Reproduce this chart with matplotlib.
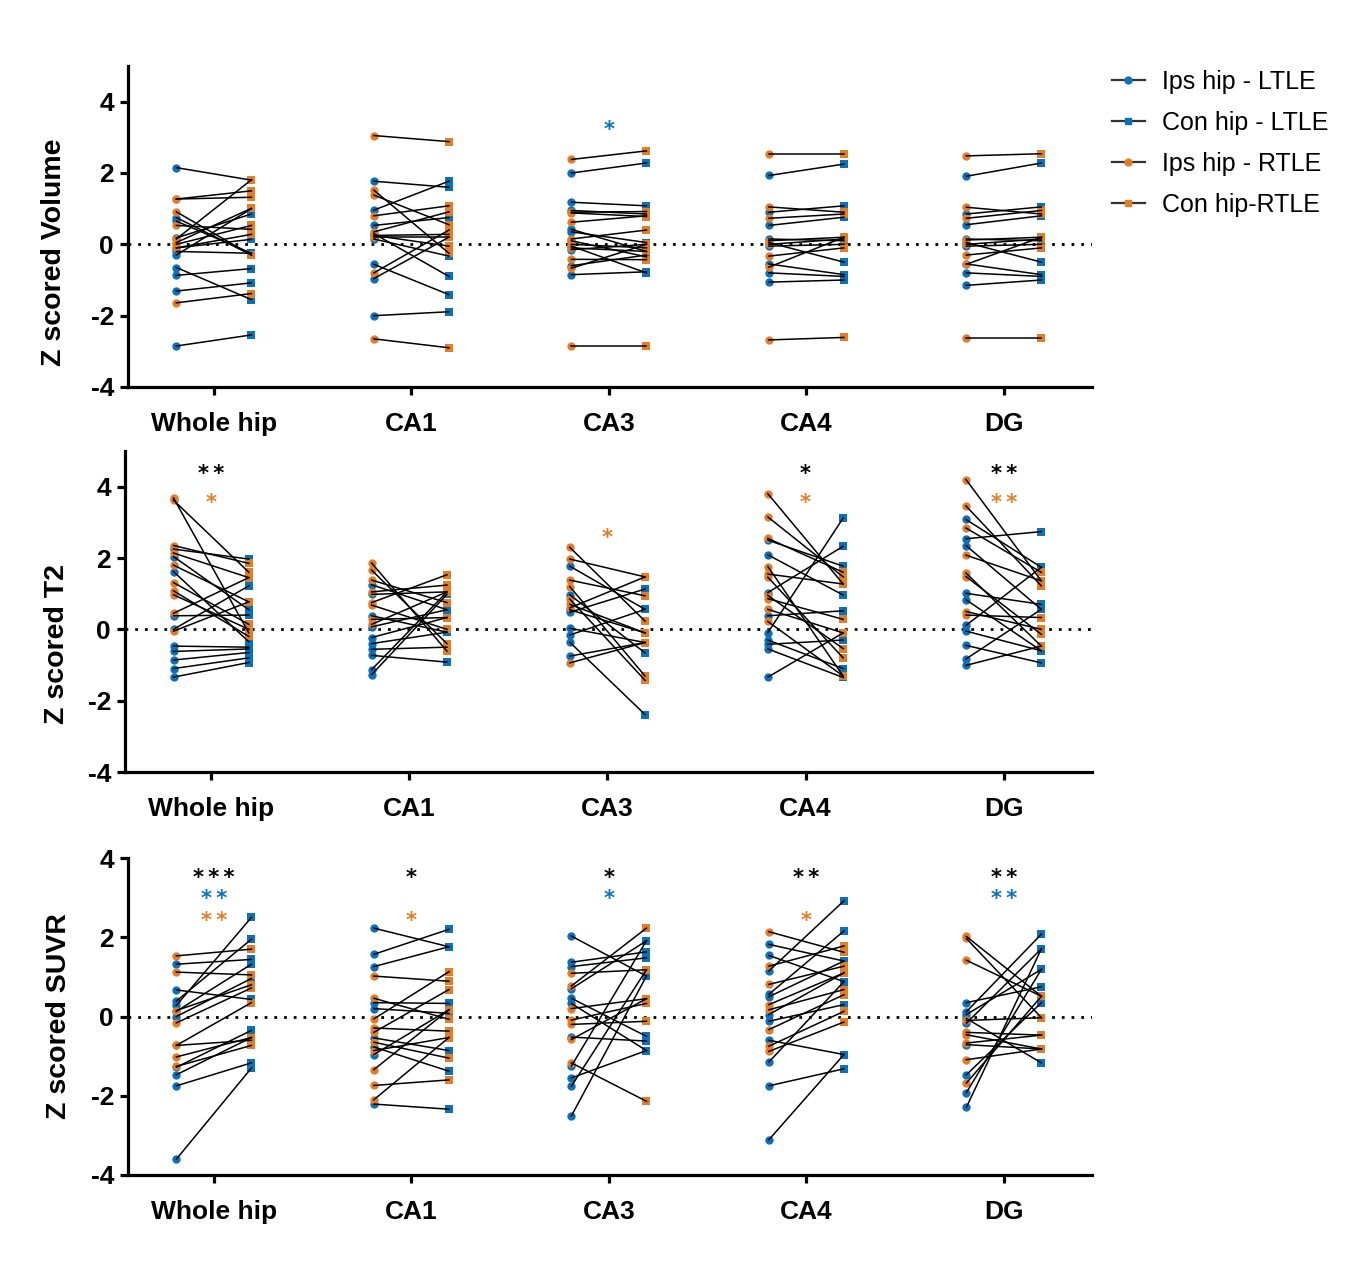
import matplotlib
matplotlib.use('Agg')
import matplotlib.pyplot as plt
from matplotlib.lines import Line2D
from matplotlib.transforms import offset_copy

plt.rcParams['font.family'] = ['Liberation Sans', 'DejaVu Sans']
plt.rcParams['axes.unicode_minus'] = False

BLUE = '#0a72bb'
ORANGE = '#e37e26'

regions = ['Whole hip', 'CA1', 'CA3', 'CA4', 'DG']

# ---- Z scored Volume ----
vol_ips_ltle = [
    [2.15, 0.75, 0.65, 0.18, -0.1, -0.2, -0.3, -0.65, -0.87, -1.31, -2.85],
    [1.77, 0.96, 0.53, 0.3, 0.25, 0.15, -0.56, -0.96, -2.0],
    [2.0, 1.18, 0.95, 0.42, 0.35, 0.1, -0.05, -0.15, -0.6, -0.85],
    [1.93, 0.9, 0.53, 0.15, 0.05, -0.05, -0.55, -0.8, -1.06],
    [1.91, 0.85, 0.55, 0.15, 0.05, -0.05, -0.55, -0.8, -1.15],
]
vol_con_ltle = [
    [1.8, -0.3, -0.25, 0.85, 0.14, -0.25, 1.0, -1.55, -0.68, -1.08, -2.54],
    [1.6, 1.77, 0.75, -0.9, 0.28, -0.33, -1.41, 0.2, -1.89],
    [2.28, 1.08, 0.85, -0.2, 0.05, -0.35, -0.8, 0.0, -0.3, -0.77],
    [2.25, 1.08, 0.76, 0.1, -0.5, 0.0, -0.85, -0.9, -1.0],
    [2.28, 1.05, 0.8, 0.1, -0.5, 0.0, -0.85, -0.9, -1.0],
]
vol_ips_rtle = [
    [1.27, 1.27, 0.91, 0.53, 0.15, 0.05, 0.0, -0.1, -1.64],
    [3.05, 1.52, 1.38, 0.8, 0.35, 0.2, 0.25, -0.8, -2.65],
    [2.38, 0.9, 0.88, 0.62, 0.15, 0.0, -0.1, -0.42, -0.67, -2.84],
    [2.52, 1.05, 0.73, 0.1, 0.0, -0.33, -0.64, -2.68],
    [2.48, 1.04, 0.73, 0.12, 0.0, -0.3, -0.56, -2.62],
]
vol_con_rtle = [
    [1.32, 1.5, -0.3, 0.42, 1.81, 1.01, 0.53, 0.28, -1.38],
    [2.88, -0.25, 0.55, 1.08, 0.91, 0.2, -0.05, 0.4, -2.9],
    [2.62, 0.92, 0.78, 0.8, 0.4, -0.1, -0.2, -0.43, 0.0, -2.84],
    [2.52, 0.9, 0.85, 0.2, 0.15, -0.1, 0.2, -2.61],
    [2.54, 0.85, 0.95, 0.2, 0.15, -0.1, 0.2, -2.62],
]

# ---- Z scored T2 ----
t2_ips_ltle = [
    [2.25, 2.04, 1.62, 0.38, 0.0, -0.47, -0.62, -0.86, -1.1, -1.34],
    [1.25, 0.98, 0.38, 0.07, -0.23, -0.4, -0.56, -0.73, -1.13, -1.27],
    [1.77, 0.97, 0.48, 0.03, -0.16, -0.36, -0.75, 0.55],
    [2.5, 2.09, 1.03, 0.38, -0.09, -0.3, -0.42, -0.55, -1.34],
    [3.08, 2.54, 2.35, 1.01, 0.83, 0.11, -0.05, -0.45, -0.83, -1.01],
]
t2_con_ltle = [
    [1.97, 0.55, -0.35, 0.4, 1.22, -0.5, -0.55, -0.65, -0.8, -0.93],
    [0.55, 1.05, -0.08, 0.55, 0.33, -0.08, -0.5, -0.92, 1.05, 0.98],
    [0.56, -0.66, 1.13, -0.37, 0.56, -2.39, -0.37, -0.1],
    [1.77, 0.96, 2.33, 0.52, 3.12, -1.1, -0.3, -1.35, -0.1],
    [1.74, 2.74, 0.56, 0.7, -0.6, 1.74, -0.6, -0.94, 0.56, -0.47],
]
t2_ips_rtle = [
    [3.68, 3.62, 2.35, 2.14, 1.8, 1.31, 1.08, 0.97, 0.45, -0.05],
    [1.86, 1.66, 1.38, 1.05, 0.75, 0.68, 0.28, 0.14],
    [2.3, 1.97, 1.38, 1.2, 0.85, 0.7, 0.6, -0.94],
    [3.8, 3.15, 2.55, 1.76, 1.55, 1.46, 0.95, 0.86, 0.56, 0.22],
    [4.2, 3.46, 2.84, 2.08, 1.58, 1.48, 0.5, 0.4],
]
t2_con_rtle = [
    [-0.1, 1.6, 1.85, 1.45, 0.77, 0.14, -0.2, 0.0, 1.45, 0.77],
    [-0.61, -0.4, 0.75, 1.24, 1.53, 0.0, 0.33, 1.05],
    [0.23, 1.47, 0.94, -1.31, -1.43, -0.1, 1.47, -0.37],
    [1.27, 1.47, 1.6, -1.31, 1.27, -0.8, -0.54, 0.28, -0.1, -1.31],
    [1.36, 1.22, 1.6, 1.36, -0.47, -0.14, 0.0, 0.33],
]

# ---- Z scored SUVR ----
suvr_ips_ltle = [
    [1.32, 0.67, 0.39, 0.28, 0.13, -1.28, -1.47, -1.75, -3.6, 0.0],
    [2.23, 1.57, 1.26, 0.35, 0.2, -0.54, -0.77, -0.96, -2.21],
    [2.03, 1.37, 1.26, 0.7, 0.46, 0.33, -0.52, -1.25, -1.55, -1.76, -2.51],
    [1.82, 1.54, 1.15, 0.56, 0.5, 0.05, -0.12, -0.6, -1.15, -1.75, -3.11],
    [0.35, 0.12, -0.17, -0.71, -1.47, -1.92, -2.29, 0.05, -0.05],
]
suvr_con_ltle = [
    [1.44, 0.43, 1.95, 2.5, 1.32, -0.35, -0.53, -1.17, -1.3, 0.96],
    [1.76, 2.2, 1.76, 0.33, 0.08, -0.86, -1.38, 0.17, -2.34],
    [1.02, 1.63, 1.48, 1.91, -0.5, -0.86, -0.62, 1.91, -0.86, 1.18, 1.02],
    [1.4, 0.88, 2.92, 2.16, 1.4, 1.1, 0.3, -0.96, 0.88, -1.32, -0.96],
    [0.75, 2.08, 1.71, -0.82, 0.35, 1.19, 1.71, 1.19, -1.17],
]
suvr_ips_rtle = [
    [1.53, 1.12, 0.15, -0.16, -0.73, -1.02, -1.26, -0.73],
    [1.02, 0.46, -0.06, -0.29, -0.4, -0.65, -0.86, -1.34, -1.74, -2.1],
    [1.09, 0.77, 0.2, -0.09, -0.2, -0.58, -1.17],
    [2.14, 1.27, 0.81, 0.3, 0.17, -0.33, -0.75, -0.88],
    [2.02, 1.97, 1.42, -0.1, -0.4, -0.46, -0.67, -1.09, -1.68],
]
suvr_con_rtle = [
    [1.7, 1.05, 0.8, 0.72, -0.6, -0.53, -0.73, 0.35],
    [0.89, -0.07, 1.13, -0.37, 0.68, -1.05, -0.53, 0.17, -1.6, -0.53],
    [1.18, 2.23, 0.45, 0.33, -0.12, 0.45, -2.14],
    [1.62, 1.78, 1.27, 1.1, 0.68, 0.55, 0.13, -0.14],
    [0.51, -0.03, 0.51, -0.03, -0.47, -0.82, -0.47, -0.82, 0.51],
]

# significance marks: (region index, z position, number of stars, colour)
vol_stars = [(2, 3.38, 1, BLUE)]
t2_stars = [(0, 4.54, 2, 'black'), (0, 3.72, 1, ORANGE), (2, 2.73, 1, ORANGE),
            (3, 4.54, 1, 'black'), (3, 3.72, 1, ORANGE),
            (4, 4.54, 2, 'black'), (4, 3.72, 2, ORANGE)]
suvr_stars = [(0, 3.66, 3, 'black'), (0, 3.13, 2, BLUE), (0, 2.58, 2, ORANGE),
              (1, 3.66, 1, 'black'), (1, 2.58, 1, ORANGE),
              (2, 3.66, 1, 'black'), (2, 3.13, 1, BLUE),
              (3, 3.66, 2, 'black'), (3, 2.58, 1, ORANGE),
              (4, 3.66, 2, 'black'), (4, 3.13, 2, BLUE)]

W, H = 1351, 1276
fig = plt.figure(figsize=(W / 100, H / 100), dpi=100)

HALF = 0.19
FS_STAR = 15.3


def draw_panel(rect, ips_l, con_l, ips_r, con_r, ylim, ylabel, lab_xy, stars):
    ax = fig.add_axes(rect)
    for g in range(len(regions)):
        xl, xr = g - HALF, g + HALF
        ax.plot([xl] * len(ips_l[g]), ips_l[g], 'o', color=BLUE, ms=6.0, mew=0, zorder=2)
        ax.plot([xr] * len(con_l[g]), con_l[g], 's', color=BLUE, ms=5.6, mew=0, zorder=2)
        ax.plot([xl] * len(ips_r[g]), ips_r[g], 'o', color=ORANGE, ms=6.0, mew=0, zorder=2.1)
        ax.plot([xr] * len(con_r[g]), con_r[g], 's', color=ORANGE, ms=5.6, mew=0, zorder=2.1)
        for a, b in list(zip(ips_l[g], con_l[g])) + list(zip(ips_r[g], con_r[g])):
            ax.plot([xl, xr], [a, b], color='black', lw=1.1, zorder=3)
    ax.axhline(0, color='black', lw=2.0, ls=(0, (1, 2.5)), zorder=1)

    # one text per row of stars, small line height so stacked rows stay apart
    tr = offset_copy(ax.transData, fig=fig, y=-0.58 * FS_STAR, units='points')
    for g, y, n, c in stars:
        ax.text(g, y, '\u2009'.join(['*'] * n), color=c, fontsize=FS_STAR,
                fontweight='bold', family='DejaVu Sans',
                ha='center', va='baseline', transform=tr, clip_on=False)

    ax.set_xlim(-0.435, 4.446)
    ax.set_ylim(*ylim)
    ax.set_yticks(range(-4, int(ylim[1]) + 1, 2))
    ax.set_xticks(range(len(regions)))
    ax.set_xticklabels(regions)
    for s in ['top', 'right']:
        ax.spines[s].set_visible(False)
    for s in ['left', 'bottom']:
        ax.spines[s].set_linewidth(2.3)
    ax.tick_params(axis='both', width=2.3, length=6, labelsize=19, pad=4)
    ax.tick_params(axis='x', pad=12)
    for lab in ax.get_xticklabels() + ax.get_yticklabels():
        lab.set_fontweight('bold')
    ax.set_ylabel(ylabel, fontsize=20.5, fontweight='bold')
    ax.yaxis.set_label_coords(*lab_xy)
    return ax


def rect(left, right, top, bottom):
    return [left / W, 1 - bottom / H, (right - left) / W, (bottom - top) / H]


draw_panel(rect(128, 1092, 66, 387), vol_ips_ltle, vol_con_ltle, vol_ips_rtle, vol_con_rtle,
           (-4, 5), 'Z scored Volume', (-0.063, 0.42), vol_stars)
draw_panel(rect(125, 1092, 451, 772), t2_ips_ltle, t2_con_ltle, t2_ips_rtle, t2_con_rtle,
           (-4, 5), 'Z scored T2', (-0.057, 0.40), t2_stars)
draw_panel(rect(128, 1092, 858, 1175), suvr_ips_ltle, suvr_con_ltle, suvr_ips_rtle, suvr_con_rtle,
           (-4, 4), 'Z scored SUVR', (-0.058, 0.50), suvr_stars)

handles = [
    Line2D([], [], color='#333333', lw=1.6, marker='o', ms=5, mfc=BLUE, mec=BLUE),
    Line2D([], [], color='#333333', lw=1.6, marker='s', ms=5, mfc=BLUE, mec=BLUE),
    Line2D([], [], color='#333333', lw=1.6, marker='o', ms=5, mfc=ORANGE, mec=ORANGE),
    Line2D([], [], color='#333333', lw=1.6, marker='s', ms=5, mfc=ORANGE, mec=ORANGE),
]
labels = ['Ips hip - LTLE', 'Con hip - LTLE', 'Ips hip - RTLE', 'Con hip-RTLE']
fig.legend(handles, labels, loc='upper left', bbox_to_anchor=(1112 / W, 1 - 70 / H),
           frameon=False, fontsize=18, handlelength=1.3, handletextpad=0.72,
           labelspacing=0.68, borderaxespad=0, borderpad=0)

fig.savefig('out.png', dpi=100)
